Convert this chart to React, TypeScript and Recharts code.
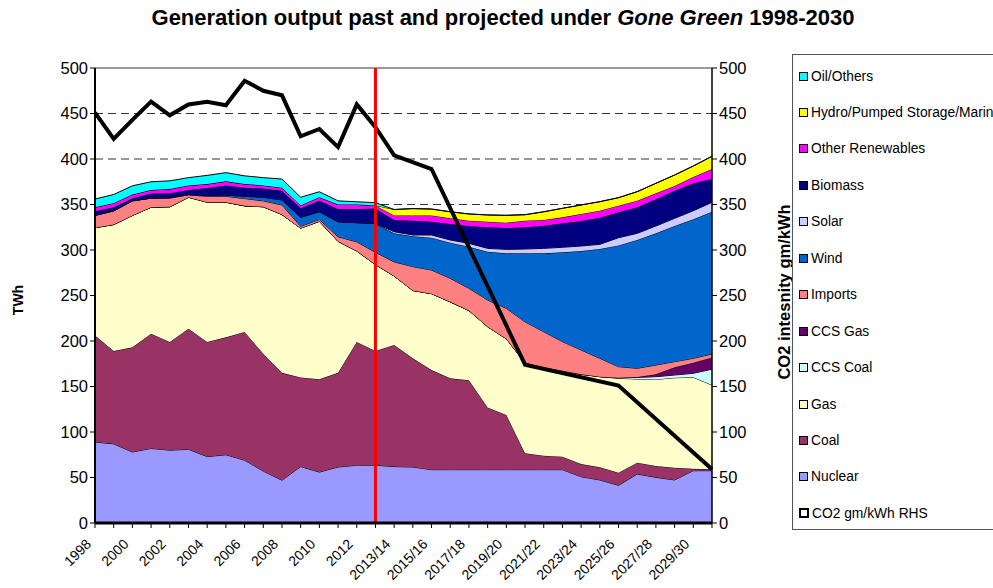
import { Area, CartesianGrid, ComposedChart, Line, ReferenceLine, XAxis, YAxis } from 'recharts'

const years = [
  '1998', '1999', '2000', '2001', '2002', '2003', '2004', '2005', '2006', '2007', '2008', '2009', '2010', '2011', '2012',
  '2012/13', '2013/14', '2014/15', '2015/16', '2016/17', '2017/18', '2018/19', '2019/20', '2020/21', '2021/22',
  '2022/23', '2023/24', '2024/25', '2025/26', '2026/27', '2027/28', '2028/29', '2029/30', '2030/31',
]

// TWh by fuel
const nuclear = [89, 87, 78, 82, 80, 81, 73, 75, 69, 57, 47, 62, 56, 61.5, 63.5, 63.5, 62, 61.5, 58.6, 58.6, 58.6, 58.6, 58.6, 58.6, 58.6, 58.6, 50.9, 47.3, 41.4, 53.8, 50.2, 47.3, 57.5, 57.5]
const coal = [117, 102, 115, 126, 119, 132.5, 126, 129, 141, 129, 118, 98, 102, 103.5, 135.5, 125.5, 133.6, 119.5, 109.4, 100.4, 98.4, 68.4, 60.1, 18, 15.4, 14.3, 13.9, 13.9, 13.9, 12.5, 12.4, 13.5, 2, 1.5]
const gas = [118.5, 139, 145, 139, 148.5, 144.5, 153.5, 148.5, 138.5, 161.5, 174, 164, 173.5, 144.5, 100, 95, 75.9, 74.5, 84, 84, 76.5, 88.7, 83.8, 99.4, 97, 94.5, 98.6, 99.6, 103.7, 91.9, 95.2, 98.8, 100.6, 92.6]
const ccsCoal = [0, 0, 0, 0, 0, 0, 0, 0, 0, 0, 0, 0, 0, 0, 0, 0, 0, 0, 0, 0, 0, 0, 0, 0, 0, 0, 0, 0, 0.5, 1.8, 3, 3, 4.4, 17.4]
const ccsGas = [0, 0, 0, 0, 0, 0, 0, 0, 0, 0, 0, 0, 0, 0, 0, 0, 0, 0, 0, 0, 0, 0, 0, 0, 0, 0, 0, 0, 0, 0.5, 2.6, 8.5, 11.7, 13]
const imports = [13.5, 15, 16, 10, 9.5, 2.5, 6.5, 6.5, 8, 6.5, 10.5, 2, 2, 5, 10, 13.4, 15.5, 26.2, 26, 25.9, 24.4, 29.3, 33.4, 45, 39.2, 31.9, 26.7, 20.2, 12.3, 9.5, 10.2, 6.2, 4.8, 3.7]
const wind = [0, 0, 0, 0, 0.5, 0.5, 1, 1.5, 2.5, 4, 5.5, 10, 8.5, 16.5, 21, 31.6, 31.3, 33.3, 35.5, 39.1, 45.7, 53.1, 60.4, 75.4, 86.1, 98.1, 108.8, 120.1, 133.2, 141, 144.7, 149.1, 152.7, 156.4]
const solar = [0, 0, 0, 0, 0, 0, 0, 0, 0, 0, 0, 0, 0, 0, 0, 0, 1.8, 1.5, 3, 3, 3.7, 3.7, 4.4, 4.7, 5.5, 5.6, 5.5, 5.1, 8.5, 7.3, 8.1, 8.4, 9.5, 10.3]
const biomass = [4.5, 4, 3, 5, 5, 5, 8, 10.5, 9.5, 9.5, 10, 10, 12, 14, 15, 16.5, 12.9, 15.7, 14.6, 17.6, 19.1, 23.1, 23.5, 23.8, 24.9, 26.3, 27.6, 29.3, 27.9, 28.6, 29.3, 30.4, 30.1, 25.6]
const otherRenewables = [4.5, 4.5, 4, 4, 4.5, 5, 4.5, 4.5, 4, 3.5, 3.5, 3, 4, 5, 5, 3.5, 5, 5.8, 6.9, 6.2, 5.8, 6.2, 5.8, 7.3, 6.3, 6.6, 7.6, 7.7, 7.3, 7.3, 6.6, 5.1, 6.9, 11]
const hydro = [0, 0, 0, 0, 0, 0, 0, 0, 0, 0, 0, 0, 0, 0, 0, 0, 6.5, 7.5, 7, 7.2, 7.4, 7.4, 8.1, 6.6, 9, 9.9, 9.9, 9.9, 8.8, 9.9, 11, 12.1, 12.1, 14]
const oilOthers = [9, 9.5, 9.5, 9, 9, 8.5, 9.5, 9.5, 9, 8.5, 9.5, 9, 6, 4, 3, 3, 0, 0, 0, 0, 0, 0, 0, 0, 0, 0, 0, 0, 0, 0, 0, 0, 0, 0]

// CO2 gm/kWh (RHS); projections only given every five years
const co2 = [451, 422, 443, 463, 448, 460, 463, 459, 486, 475, 470, 425, 433, 413, 460, 435, 404, null, 389, null, null, null, null, 174, null, null, null, null, 151, null, null, null, null, 59]

const yTicks = [0, 50, 100, 150, 200, 250, 300, 350, 400, 450, 500]

const series = [
  { key: 'nuclear', name: 'Nuclear', color: '#9999FF', values: nuclear },
  { key: 'coal', name: 'Coal', color: '#993366', values: coal },
  { key: 'gas', name: 'Gas', color: '#FFFFCC', values: gas },
  { key: 'ccsCoal', name: 'CCS Coal', color: '#CCFFFF', values: ccsCoal },
  { key: 'ccsGas', name: 'CCS Gas', color: '#660066', values: ccsGas },
  { key: 'imports', name: 'Imports', color: '#FF8080', values: imports },
  { key: 'wind', name: 'Wind', color: '#0066CC', values: wind },
  { key: 'solar', name: 'Solar', color: '#CCCCFF', values: solar },
  { key: 'biomass', name: 'Biomass', color: '#000080', values: biomass },
  { key: 'otherRenewables', name: 'Other Renewables', color: '#FF00FF', values: otherRenewables },
  { key: 'hydro', name: 'Hydro/Pumped Storage/Marine', color: '#FFFF00', values: hydro },
  { key: 'oilOthers', name: 'Oil/Others', color: '#00FFFF', values: oilOthers },
]

const rows = years.map((year, i) => {
  const row: Record<string, string | number | null> = { year, co2: co2[i] }
  series.forEach((s) => {
    row[s.key] = s.values[i]
  })
  return row
})

const font = 'Arial, "Liberation Sans", sans-serif'

function YearTick({ x, y, payload }: any) {
  if (payload.index % 2 !== 0) return null
  const ax = x - 3
  const ay = y + 15
  return (
    <text x={ax} y={ay} transform={`rotate(-45 ${ax} ${ay})`} textAnchor="end" fontSize={14} fill="#000" fontFamily={font}>
      {payload.value}
    </text>
  )
}

export default function App() {
  return (
    <div style={{ position: 'absolute', left: 0, top: 0, width: 993, height: 588, background: '#fff', fontFamily: font, overflow: 'hidden' }}>
      <div style={{ position: 'absolute', top: 5, left: 0, width: 1006, textAlign: 'center', fontSize: 22, fontWeight: 'bold', whiteSpace: 'nowrap' }}>
        Generation output past and projected under <i>Gone Green</i> 1998-2030
      </div>
      <div style={{ position: 'absolute', left: 18, top: 300, transform: 'translate(-50%, -50%) rotate(-90deg)', fontSize: 14, fontWeight: 'bold', whiteSpace: 'nowrap' }}>
        TWh
      </div>
      <div style={{ position: 'absolute', left: 784, top: 292, transform: 'translate(-50%, -50%) rotate(-90deg)', fontSize: 16.5, fontWeight: 'bold', whiteSpace: 'nowrap' }}>
        CO2 intesnity gm/kWh
      </div>

      <ComposedChart width={993} height={588} data={rows} margin={{ top: 68, right: 221, bottom: 5, left: 35 }} style={{ position: 'absolute', left: 0, top: 0 }}>
        <CartesianGrid yAxisId="left" vertical={false} stroke="#333" strokeDasharray="8 5" />
        <XAxis
          dataKey="year"
          scale="point"
          interval={0}
          height={60}
          tick={<YearTick />}
          tickSize={5}
          tickLine={{ stroke: '#000' }}
          axisLine={{ stroke: '#000', strokeWidth: 3 }}
        />
        <YAxis
          yAxisId="left"
          domain={[0, 500]}
          ticks={yTicks}
          width={60}
          tickSize={5}
          tick={{ fontSize: 16.5, fill: '#000', fontFamily: font }}
          tickLine={{ stroke: '#000' }}
          axisLine={{ stroke: '#000', strokeWidth: 2 }}
        />
        <YAxis
          yAxisId="right"
          orientation="right"
          domain={[0, 500]}
          ticks={yTicks}
          width={60}
          tickSize={5}
          tick={{ fontSize: 16.5, fill: '#000', fontFamily: font }}
          tickLine={{ stroke: '#000' }}
          axisLine={{ stroke: '#000', strokeWidth: 1.5 }}
        />
        <ReferenceLine yAxisId="left" y={500} stroke="#999" strokeWidth={2} />
        {series.map((s) => (
          <Area
            key={s.key}
            yAxisId="left"
            type="linear"
            dataKey={s.key}
            name={s.name}
            stackId="gen"
            fill={s.color}
            fillOpacity={1}
            stroke="#000"
            strokeWidth={1}
            isAnimationActive={false}
          />
        ))}
        <Line
          yAxisId="right"
          type="linear"
          dataKey="co2"
          name="CO2 gm/kWh RHS"
          stroke="#000"
          strokeWidth={4}
          dot={false}
          connectNulls
          isAnimationActive={false}
        />
        <ReferenceLine yAxisId="left" x="2012/13" stroke="#FF0000" strokeWidth={3} />
      </ComposedChart>

      <div style={{ position: 'absolute', left: 792, top: 54, width: 210, height: 476, border: '1px solid #555', background: '#fff', boxSizing: 'border-box' }}>
        {[...series].reverse().map((s, i) => (
          <LegendItem key={s.key} top={21 + i * 36.45} color={s.color} label={s.name} />
        ))}
        <LegendItem top={21 + 12 * 36.45} color="#fff" label="CO2 gm/kWh RHS" line />
      </div>
    </div>
  )
}

function LegendItem({ top, color, label, line = false }: { top: number; color: string; label: string; line?: boolean }) {
  return (
    <div style={{ position: 'absolute', left: 6, top: top - 9, height: 18, display: 'flex', alignItems: 'center', whiteSpace: 'nowrap', fontSize: 13.8 }}>
      <span
        style={{
          display: 'inline-block',
          width: line ? 6 : 7,
          height: line ? 6 : 7,
          border: line ? '2.5px solid #000' : '1px solid #000',
          background: color,
          marginRight: 3,
        }}
      />
      {label}
    </div>
  )
}
